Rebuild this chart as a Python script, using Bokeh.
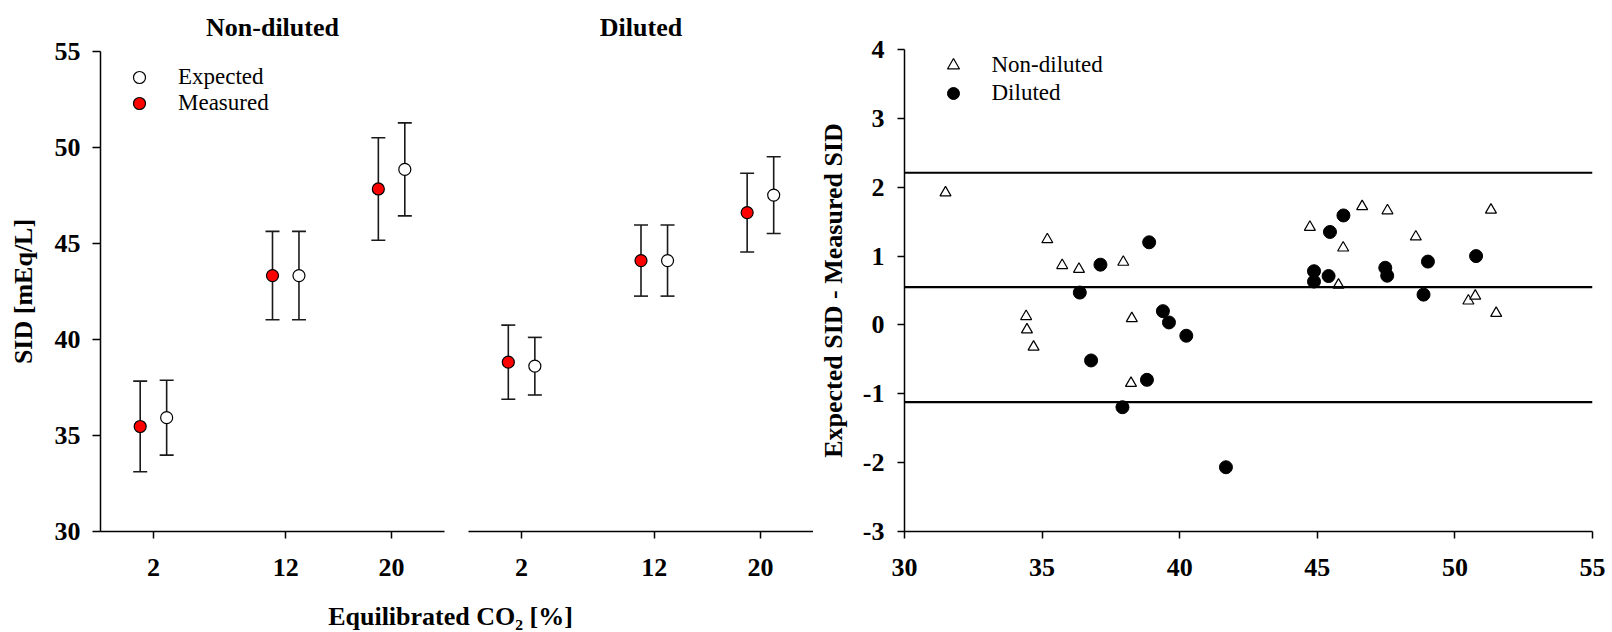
from bokeh.plotting import figure
from bokeh.models import (ColumnDataSource, Whisker, TeeHead, Span, Legend, LegendItem,
                          FixedTicker, Label, Range1d)
from bokeh.layouts import row, column
from bokeh.embed import file_html
from bokeh.resources import INLINE

# ---------------- data ----------------
co2_levels = [2, 12, 20]

nondil_measured = [35.47, 43.33, 47.84]
nondil_measured_sd = [2.36, 2.30, 2.67]
nondil_expected = [35.93, 43.33, 48.86]
nondil_expected_sd = [1.95, 2.30, 2.42]

dil_measured = [38.82, 44.11, 46.61]
dil_measured_sd = [1.93, 1.85, 2.05]
dil_expected = [38.61, 44.11, 47.52]
dil_expected_sd = [1.50, 1.85, 2.00]

nondil_mean = [31.49, 35.19, 35.73, 36.34, 37.95, 34.42, 34.45, 34.69, 38.26, 38.23,
               44.73, 46.63, 47.55, 51.31, 48.58, 45.94, 45.77, 50.49, 50.74, 51.50]
nondil_diff = [1.92, 1.24, 0.865, 0.81, 0.913, 0.124, -0.07, -0.32, 0.094, -0.846,
               1.42, 1.72, 1.66, 1.67, 1.28, 1.12, 0.58, 0.35, 0.42, 0.17]
dil_mean = [37.12, 38.89, 36.37, 36.78, 38.81, 37.92, 39.39, 39.61, 40.24, 41.68,
            45.46, 45.95, 50.77, 49.02, 44.88, 44.88, 45.41, 47.47, 47.54, 48.86]
dil_diff = [0.875, 1.20, 0.47, -0.516, -0.797, -1.195, 0.20, 0.036, -0.157, -2.067,
            1.35, 1.59, 1.00, 0.92, 0.78, 0.63, 0.71, 0.83, 0.715, 0.44]

bias = 0.55
loa_upper = 2.21
loa_lower = -1.12

sid_ticks = [30, 35, 40, 45, 50, 55]
mean_ticks = [30, 35, 40, 45, 50, 55]
diff_ticks = [-3, -2, -1, 0, 1, 2, 3, 4]

SERIF = "Liberation Serif"
DODGE = 1.0


def style_axis(ax, ticks):
    ax.ticker = FixedTicker(ticks=ticks)
    ax.major_label_overrides = {t: str(t) for t in ticks}
    ax.axis_line_width = 1.5
    ax.axis_line_color = "black"
    ax.major_tick_line_width = 1.5
    ax.major_tick_line_color = "black"
    ax.major_tick_in = 0
    ax.major_tick_out = 7
    ax.minor_tick_line_color = None
    ax.major_label_text_font = SERIF
    ax.major_label_text_font_style = "bold"
    ax.major_label_text_font_size = "26px"
    ax.major_label_text_color = "black"
    ax.axis_label_text_font = SERIF
    ax.axis_label_text_font_style = "bold"
    ax.axis_label_text_font_size = "26px"
    ax.axis_label_text_color = "black"


def legend_entry(label, renderer, loc):
    return Legend(items=[LegendItem(label=label, renderers=[renderer])],
                  location=loc, border_line_color=None, background_fill_alpha=0,
                  label_text_font=SERIF, label_text_font_size="23px", label_text_color="black",
                  glyph_width=30, glyph_height=30, label_standoff=24, spacing=0, padding=10,
                  label_height=26)


def sid_panel(title, meas, meas_sd, exp, exp_sd, width, left, right, show_y, with_legend):
    p = figure(width=width, height=590, x_range=Range1d(-2, 24), y_range=Range1d(30, 55),
               output_backend="svg", toolbar_location=None,
               min_border_left=left, min_border_right=right, min_border_top=49, min_border_bottom=59,
               y_axis_location="left" if show_y else None)
    p.outline_line_color = None
    p.grid.visible = False
    p.title.text = title
    p.title.align = "center"
    p.title.text_font = SERIF
    p.title.text_font_style = "bold"
    p.title.text_font_size = "26px"
    p.title.text_color = "black"
    p.title.standoff = 20

    style_axis(p.xaxis[0], co2_levels)
    p.xaxis[0].major_label_standoff = 20
    if show_y:
        style_axis(p.yaxis[0], sid_ticks)
        p.yaxis[0].major_tick_out = 8
        p.yaxis[0].major_label_standoff = 12
        p.yaxis[0].axis_label = "SID [mEq/L]"
        p.yaxis[0].axis_label_standoff = 14

    src_m = ColumnDataSource(dict(x=[c - DODGE for c in co2_levels], y=meas,
                                  lo=[v - s for v, s in zip(meas, meas_sd)],
                                  hi=[v + s for v, s in zip(meas, meas_sd)]))
    src_e = ColumnDataSource(dict(x=[c + DODGE for c in co2_levels], y=exp,
                                  lo=[v - s for v, s in zip(exp, exp_sd)],
                                  hi=[v + s for v, s in zip(exp, exp_sd)]))
    for src in (src_m, src_e):
        w = Whisker(base="x", upper="hi", lower="lo", source=src, line_color="#1a1a1a", line_width=1.6,
                    upper_head=TeeHead(size=14, line_width=1.6, line_color="#1a1a1a"),
                    lower_head=TeeHead(size=14, line_width=1.6, line_color="#1a1a1a"))
        p.add_layout(w)
    r_m = p.scatter("x", "y", source=src_m, size=12, fill_color="#ff0000", line_color="black", line_width=1.2)
    r_e = p.scatter("x", "y", source=src_e, size=12, fill_color="white", line_color="black", line_width=1.2)

    if with_legend:
        p.add_layout(legend_entry("Expected", r_e, (24, 439)))
        p.add_layout(legend_entry("Measured", r_m, (24, 413)))
    return p


p1 = sid_panel("Non-diluted", nondil_measured, nondil_measured_sd, nondil_expected, nondil_expected_sd,
               456, 100, 12, True, True)
p2 = sid_panel("Diluted", dil_measured, dil_measured_sd, dil_expected, dil_expected_sd,
               357, 12, 0, False, False)

# shared x-axis label under the two left panels
plab = figure(width=813, height=42, output_backend="svg", toolbar_location=None,
              min_border=0, x_axis_location=None, y_axis_location=None)
plab.outline_line_color = None
plab.grid.visible = False
plab.add_layout(Label(x=450, y=16, x_units="screen", y_units="screen", text="Equilibrated CO₂ [%]",
                      text_align="center", text_baseline="alphabetic", text_font=SERIF,
                      text_font_style="bold", text_font_size="26px", text_color="black"))

# ---------------- difference plot ----------------
p3 = figure(width=799, height=632, x_range=Range1d(30, 55), y_range=Range1d(-3, 4),
            output_backend="svg", toolbar_location=None,
            min_border_left=91, min_border_right=20, min_border_top=49, min_border_bottom=101)
p3.outline_line_color = None
p3.grid.visible = False
style_axis(p3.xaxis[0], mean_ticks)
p3.xaxis[0].major_label_standoff = 20
style_axis(p3.yaxis[0], diff_ticks)
p3.yaxis[0].major_label_standoff = 13
p3.yaxis[0].axis_label = "Expected SID - Measured SID"
p3.yaxis[0].axis_label_standoff = 12

for loc in (loa_upper, bias, loa_lower):
    p3.add_layout(Span(location=loc, dimension="width", line_color="black", line_width=2.2))

src_nd = ColumnDataSource(dict(x=nondil_mean, y=nondil_diff))
src_d = ColumnDataSource(dict(x=dil_mean, y=dil_diff))
r_nd = p3.scatter("x", "y", source=src_nd, marker="triangle", size=11, fill_color="white",
                  line_color="black", line_width=1.2)
r_d = p3.scatter("x", "y", source=src_d, size=13, fill_color="black", line_color="black")

p3.add_layout(legend_entry("Non-diluted", r_nd, (33.5, 450.7)))
p3.add_layout(legend_entry("Diluted", r_d, (33.5, 423.3)))

layout = row(column(row(p1, p2), plab), p3)

open("out.html", "w").write(file_html(layout, INLINE))
